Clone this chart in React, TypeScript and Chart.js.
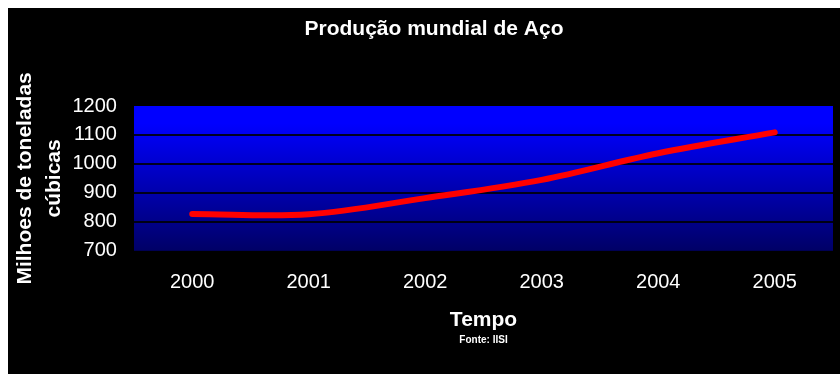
import React, { useEffect, useRef } from "react";
import { Chart, registerables } from "chart.js";

Chart.register(...registerables);

const TITLE = "Produção mundial de Aço";
const Y_TITLE = ["Milhoes de toneladas", "cúbicas"];
const X_TITLE = "Tempo";
const SOURCE = "Fonte: IISI";
const YEARS = ["2000", "2001", "2002", "2003", "2004", "2005"];
const PRODUCTION = [827, 826, 882, 945, 1037, 1109];
const Y_MIN = 700;
const Y_MAX = 1200;
const Y_STEP = 100;

const FONT = "'Liberation Sans', Arial, Helvetica, sans-serif";

const backgroundPlugin = {
  id: "bgAndTitle",
  beforeDraw(chart: any) {
    const { ctx, chartArea, width, height } = chart;
    ctx.save();
    ctx.fillStyle = "#000000";
    ctx.fillRect(0, 0, width, height);
    const g = ctx.createLinearGradient(0, chartArea.top, 0, chartArea.bottom);
    g.addColorStop(0, "#0000ff");
    g.addColorStop(0.12, "#0000ff");
    g.addColorStop(1, "#000066");
    ctx.fillStyle = g;
    ctx.fillRect(chartArea.left, chartArea.top, chartArea.right - chartArea.left, chartArea.bottom - chartArea.top);
    ctx.restore();
  },
  afterDraw(chart: any) {
    const { ctx, width } = chart;
    ctx.save();
    ctx.fillStyle = "#ffffff";
    ctx.font = `bold 21px ${FONT}`;
    ctx.textAlign = "center";
    ctx.textBaseline = "alphabetic";
    ctx.fillText(TITLE, width / 2 + 10, 27);
    ctx.restore();
  },
};

export default function App() {
  const ref = useRef<HTMLCanvasElement | null>(null);

  useEffect(() => {
    if (!ref.current) return;
    const chart = new Chart(ref.current, {
      type: "line",
      data: {
        labels: YEARS,
        datasets: [
          {
            data: PRODUCTION,
            borderColor: "#ff0000",
            borderWidth: 6,
            borderCapStyle: "round",
            borderJoinStyle: "round",
            pointRadius: 0,
            pointHoverRadius: 0,
            tension: 0.35,
            fill: false,
          },
        ],
      },
      options: {
        animation: false,
        responsive: false,
        events: [],
        layout: { padding: { left: 0, right: 7, top: 98, bottom: 28 } },
        plugins: {
          legend: { display: false },
          tooltip: { enabled: false },
          title: { display: false },
          subtitle: {
            display: true,
            text: SOURCE,
            position: "bottom",
            fullSize: false,
            color: "#ffffff",
            font: { family: FONT, size: 10, weight: "bold", lineHeight: 1.2 },
            padding: { top: 1, bottom: 0 },
          },
        },
        scales: {
          x: {
            offset: true,
            grid: { display: false, drawTicks: false },
            border: { display: false },
            ticks: {
              color: "#ffffff",
              padding: 20,
              autoSkip: false,
              maxRotation: 0,
              font: { family: FONT, size: 20, lineHeight: 1.2 },
            },
            title: {
              display: true,
              text: X_TITLE,
              color: "#ffffff",
              font: { family: FONT, size: 21, weight: "bold", lineHeight: 1.2 },
              padding: { top: -7, bottom: 0 },
            },
          },
          y: {
            min: Y_MIN,
            max: Y_MAX,
            grid: {
              drawTicks: false,
              lineWidth: 2,
              color: (c: any) =>
                c.tick && (c.tick.value === Y_MIN || c.tick.value === Y_MAX) ? "rgba(0,0,0,0)" : "rgba(0,0,0,0.85)",
            },
            border: { display: false },
            ticks: {
              stepSize: Y_STEP,
              autoSkip: false,
              color: "#ffffff",
              padding: 17,
              font: { family: FONT, size: 20, lineHeight: 1.2 },
              callback: (v: any) => String(v),
            },
            title: {
              display: true,
              text: Y_TITLE,
              color: "#ffffff",
              font: { family: FONT, size: 21, weight: "bold", lineHeight: 29 / 21 },
              padding: { top: 3, bottom: -13.5 },
            },
          },
        },
      },
      plugins: [backgroundPlugin],
    } as any);
    return () => chart.destroy();
  }, []);

  return (
    <div style={{ position: "absolute", left: 8, top: 8, width: 832, height: 366, background: "#000" }}>
      <canvas ref={ref} width={832} height={366} style={{ display: "block" }} />
    </div>
  );
}
